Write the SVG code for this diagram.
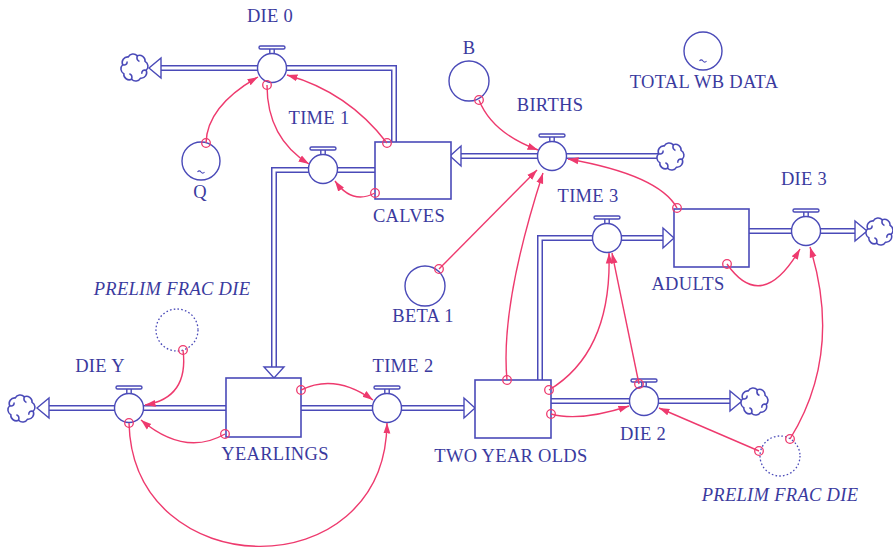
<svg xmlns="http://www.w3.org/2000/svg" xmlns:xlink="http://www.w3.org/1999/xlink" width="893" height="554" viewBox="0 0 893 554">
  <style>
    text { font-family: "Liberation Serif", "Times New Roman", serif; font-size: 18.5px; letter-spacing: 0.3px; fill: #3a3a9e; text-anchor: middle; }
    text.it { font-style: italic; }
    .pipe-out { fill: none; stroke: #4a4ab8; stroke-width: 6; }
    .pipe-in { fill: none; stroke: #ffffff; stroke-width: 3; }
    .head { fill: #ffffff; stroke: #4a4ab8; stroke-width: 1.4; stroke-linejoin: miter; }
    .stock { fill: #ffffff; stroke: #4a4ab8; stroke-width: 1.6; }
    .aux { fill: #ffffff; stroke: #4a4ab8; stroke-width: 1.4; }
    .shadow { fill: #ffffff; stroke: #4a4ab8; stroke-width: 1.3; stroke-dasharray: 1.6 2.2; }
    .tilde { fill: none; stroke: #4a4ab8; stroke-width: 1.1; }
    .link { fill: none; stroke: #ee3a6e; stroke-width: 1.4; marker-start: url(#tail); marker-end: url(#tip); }
  </style>
  <defs>
    <marker id="tip" markerUnits="userSpaceOnUse" markerWidth="12" markerHeight="9" viewBox="0 0 12 9" refX="10.5" refY="4.5" orient="auto">
      <path d="M0,1 L10.5,4.5 L0,8 z" fill="#ee3a6e"/>
    </marker>
    <marker id="tail" markerUnits="userSpaceOnUse" markerWidth="12" markerHeight="12" viewBox="-6 -6 12 12" refX="0" refY="0" orient="0">
      <circle r="4.3" fill="none" stroke="#ee3a6e" stroke-width="1.3"/>
    </marker>
    <g id="cloud" fill="#ffffff" stroke="#4a4ab8" stroke-width="1.4" transform="scale(1.12)">
      <path d="M-6,-9 a5,5 0 0 1 8,-1 a5,5 0 0 1 7,5 a5,5 0 0 1 1,8 a5,5 0 0 1 -5,7 a5,5 0 0 1 -8,1 a5,5 0 0 1 -7,-5 a5,5 0 0 1 -1,-8 a5,5 0 0 1 5,-7 z"/>
      <path d="M2,-10 q-1,4 2,5 M10,3 q-4,-1 -4,3 M-3,11 q1,-4 -2,-5 M-11,-2 q4,1 4,-3" fill="none"/>
    </g>
    <g id="valve" stroke="#4a4ab8" stroke-width="1.4">
      <path d="M-2.2,-14 V-19.5 M2.2,-14 V-19.5" fill="none"/>
      <rect x="-13" y="-22" width="26" height="3" rx="1.5" fill="#ffffff"/>
      <circle r="14.5" fill="#ffffff"/>
    </g>
    <path id="tl" d="M-3.5,0 q1.75,-2.2 3.5,0 t3.5,0"/>
    <path id="f-die0" d="M394,142 V68 H161"/>
    <path id="f-time1" d="M375,170 H274 V367"/>
    <path id="f-births" d="M658,156 H461"/>
    <path id="f-diey" d="M226,408 H49"/>
    <path id="f-time2" d="M301,408 H464"/>
    <path id="f-time3" d="M540,380 V238 H663"/>
    <path id="f-die2" d="M551,401 H730"/>
    <path id="f-die3" d="M749,231 H855"/>
  </defs>

  <rect width="893" height="554" fill="#ffffff"/>

  <!-- material flows: double pipes with hollow heads -->
  <g id="flow-pipes">
    <g class="pipe-out">
      <use href="#f-die0"/><use href="#f-time1"/><use href="#f-births"/><use href="#f-diey"/>
      <use href="#f-time2"/><use href="#f-time3"/><use href="#f-die2"/><use href="#f-die3"/>
    </g>
    <g class="pipe-in">
      <use href="#f-die0"/><use href="#f-time1"/><use href="#f-births"/><use href="#f-diey"/>
      <use href="#f-time2"/><use href="#f-time3"/><use href="#f-die2"/><use href="#f-die3"/>
    </g>
    <polygon class="head" points="161,58 161,78 149,68"/>
    <polygon class="head" points="264,367 284,367 274,378"/>
    <polygon class="head" points="461,146 461,166 450,156"/>
    <polygon class="head" points="49,398 49,418 37,408"/>
    <polygon class="head" points="464,398 464,418 475,408"/>
    <polygon class="head" points="663,228 663,248 674,238"/>
    <polygon class="head" points="730,391 730,411 742,401"/>
    <polygon class="head" points="855,221 855,241 867,231"/>
  </g>

  <!-- sources and sinks -->
  <g id="clouds">
    <use href="#cloud" x="135" y="67"/>
    <use href="#cloud" x="671" y="156"/>
    <use href="#cloud" x="22" y="408"/>
    <use href="#cloud" x="755" y="401"/>
    <use href="#cloud" x="880" y="231"/>
  </g>

  <!-- stocks -->
  <g id="calves">
    <rect class="stock" x="375" y="142" width="76" height="57"/>
    <text x="409" y="222">CALVES</text>
  </g>
  <g id="yearlings">
    <rect class="stock" x="226" y="378" width="75" height="59"/>
    <text x="275" y="460">YEARLINGS</text>
  </g>
  <g id="two-year-olds">
    <rect class="stock" x="475" y="380" width="76" height="58"/>
    <text x="511" y="462">TWO YEAR OLDS</text>
  </g>
  <g id="adults">
    <rect class="stock" x="674" y="209" width="75" height="58"/>
    <text x="688" y="290">ADULTS</text>
  </g>

  <!-- rates -->
  <g id="die-0">
    <use href="#valve" x="272" y="68"/>
    <text x="270" y="22">DIE 0</text>
  </g>
  <g id="time-1">
    <use href="#valve" x="323" y="169"/>
    <text x="319" y="124">TIME 1</text>
  </g>
  <g id="births">
    <use href="#valve" x="552" y="156"/>
    <text x="550" y="111">BIRTHS</text>
  </g>
  <g id="die-y">
    <use href="#valve" x="129" y="408"/>
    <text x="100" y="372">DIE Y</text>
  </g>
  <g id="time-2">
    <use href="#valve" x="387" y="408"/>
    <text x="403" y="372">TIME 2</text>
  </g>
  <g id="time-3">
    <use href="#valve" x="607" y="238"/>
    <text x="588" y="202">TIME 3</text>
  </g>
  <g id="die-2">
    <use href="#valve" x="644" y="401"/>
    <text x="643" y="440">DIE 2</text>
  </g>
  <g id="die-3">
    <use href="#valve" x="806" y="231"/>
    <text x="804" y="185">DIE 3</text>
  </g>

  <!-- auxiliaries -->
  <g id="q">
    <circle class="aux" cx="201" cy="161" r="19"/>
    <use href="#tl" x="201" y="172" class="tilde"/>
    <text x="200" y="198">Q</text>
  </g>
  <g id="b">
    <circle class="aux" cx="469" cy="81" r="20"/>
    <text x="469" y="54">B</text>
  </g>
  <g id="total-wb-data">
    <circle class="aux" cx="703" cy="51" r="19"/>
    <use href="#tl" x="703" y="61" class="tilde"/>
    <text x="704" y="88">TOTAL WB DATA</text>
  </g>
  <g id="beta-1">
    <circle class="aux" cx="425" cy="286" r="20"/>
    <text x="423" y="322">BETA 1</text>
  </g>
  <g id="prelim-frac-die-y">
    <circle class="shadow" cx="177" cy="330" r="21"/>
    <text class="it" x="172" y="295">PRELIM FRAC DIE</text>
  </g>
  <g id="prelim-frac-die-2">
    <circle class="shadow" cx="780" cy="456" r="20"/>
    <text class="it" x="780" y="501">PRELIM FRAC DIE</text>
  </g>

  <!-- information links -->
  <g id="links">
    <path class="link" d="M206,143 Q207,106 258,77"/>
    <path class="link" d="M387,143 Q348,92 287,75"/>
    <path class="link" d="M267,85 Q267,138 309,164"/>
    <path class="link" d="M375,193 Q352,205 335,181"/>
    <path class="link" d="M479,100 Q492,133 538,150"/>
    <path class="link" d="M677,208 Q659,175 568,159"/>
    <path class="link" d="M439,269 L537,170"/>
    <path class="link" d="M507,380 Q500,306 543,173"/>
    <path class="link" d="M549,390 Q612,352 609,253"/>
    <path class="link" d="M639,384 L612,253"/>
    <path class="link" d="M551,414 Q580,422 629,406"/>
    <path class="link" d="M759,451 L659,408"/>
    <path class="link" d="M790,439 Q843,353 810,247"/>
    <path class="link" d="M727,264 Q762,314 800,249"/>
    <path class="link" d="M301,390 Q335,373 373,400"/>
    <path class="link" d="M225,434 Q185,457 141,420"/>
    <path class="link" d="M183,350 Q189,398 145,405"/>
    <path class="link" d="M129,423 C133,585 385,590 387,423"/>
  </g>
</svg>
